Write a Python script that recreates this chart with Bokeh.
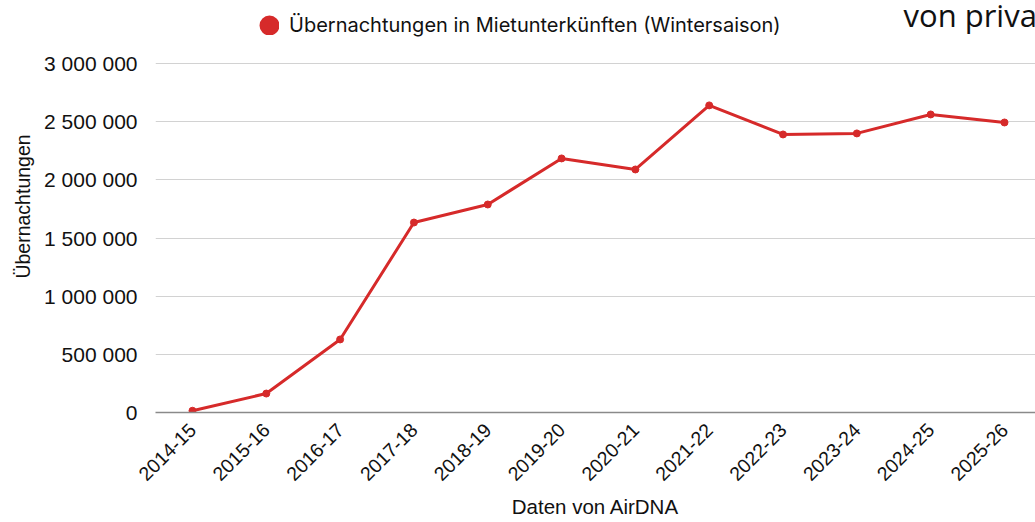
import math
from bokeh.plotting import figure
from bokeh.models import Range1d, FixedTicker, Legend, LegendItem, Label, ColumnDataSource
from bokeh.embed import file_html
from bokeh.resources import INLINE

# ---- data ----
seasons = ["2014-15", "2015-16", "2016-17", "2017-18", "2018-19", "2019-20",
           "2020-21", "2021-22", "2022-23", "2023-24", "2024-25", "2025-26"]
overnights = [15000, 163000, 628000, 1633000, 1788000, 2184000,
              2089000, 2640000, 2390000, 2399000, 2562000, 2493000]
y_ticks = [0, 500000, 1000000, 1500000, 2000000, 2500000, 3000000]
y_tick_labels = ["0", "500 000", "1 000 000", "1 500 000", "2 000 000", "2 500 000", "3 000 000"]
series_name = "Übernachtungen in Mietunterkünften (Wintersaison)"
y_title = "Übernachtungen"
x_title = "Daten von AirDNA"
chart_title = "von privaten Unterkünften"

RED = "#d62a2a"
LEG_FONT = "Inter"
AX_FONT = "Liberation Sans"

# frame spans the full height above the x axis (412 px); top tick sits 349 px above the axis
FRAME_H = 412
TOP_TICK_PX = 349
y_end = y_ticks[-1] * FRAME_H / TOP_TICK_PX

idx = list(range(len(seasons)))
src = ColumnDataSource(dict(x=idx, y=overnights))

p = figure(width=1035, height=522,
           x_range=Range1d(-0.501, 11.42), y_range=Range1d(0, y_end),
           output_backend="svg", toolbar_location=None,
           min_border_left=155, min_border_right=0,
           min_border_top=0, min_border_bottom=110)
p.outline_line_color = None
p.background_fill_color = "white"
p.border_fill_color = "white"

line = p.line("x", "y", source=src, line_color=RED, line_width=3)
pts = p.scatter("x", "y", source=src, size=7, fill_color=RED, line_color=RED)

# x axis
p.xaxis.ticker = FixedTicker(ticks=idx)
p.xaxis.major_label_overrides = {i: s for i, s in zip(idx, seasons)}
p.xaxis.major_label_orientation = math.pi / 4
p.xaxis.major_label_text_font = AX_FONT
p.xaxis.major_label_text_font_size = "19.5px"
p.xaxis.major_label_text_color = "#111111"
p.xaxis.major_label_standoff = 8
p.xaxis.major_tick_line_color = None
p.xaxis.minor_tick_line_color = None
p.xaxis.axis_line_color = "#8a8a8a"
p.xaxis.axis_line_width = 1.5
p.xaxis.axis_label = x_title
p.xaxis.axis_label_text_font = AX_FONT
p.xaxis.axis_label_text_font_size = "20.5px"
p.xaxis.axis_label_text_font_style = "normal"
p.xaxis.axis_label_text_color = "#111111"
p.xaxis.axis_label_standoff = 5

# y axis
p.yaxis.ticker = FixedTicker(ticks=y_ticks)
p.yaxis.major_label_overrides = {t: s for t, s in zip(y_ticks, y_tick_labels)}
p.yaxis.major_label_text_font = AX_FONT
p.yaxis.major_label_text_font_size = "21px"
p.yaxis.major_label_text_color = "#111111"
p.yaxis.major_label_standoff = 12
p.yaxis.major_tick_line_color = None
p.yaxis.minor_tick_line_color = None
p.yaxis.axis_line_color = None
p.yaxis.axis_label = y_title
p.yaxis.axis_label_text_font = AX_FONT
p.yaxis.axis_label_text_font_size = "19.5px"
p.yaxis.axis_label_text_font_style = "normal"
p.yaxis.axis_label_text_color = "#111111"
p.yaxis.axis_label_standoff = 7

p.xgrid.grid_line_color = None
p.ygrid.grid_line_color = "#d2d2d2"
p.ygrid.grid_line_width = 1.2

# legend (big dot): hidden twin of the markers, drawn only in the legend
legend_dot = p.scatter("x", "y", source=src, size=8, fill_color=RED, line_color=RED,
                       line_width=12, visible=False)
legend = Legend(items=[LegendItem(label=series_name, renderers=[legend_dot])],
                location=(104, 375), orientation="horizontal",
                glyph_width=20, glyph_height=20, label_standoff=10,
                padding=0, margin=0, border_line_color=None,
                background_fill_alpha=0,
                label_text_font=LEG_FONT, label_text_font_size="20px",
                label_text_color="#111111")
p.add_layout(legend)

# cut-off title at top right
title = Label(x=748, y=398, x_units="screen", y_units="screen", text=chart_title,
              text_font="Open Sans", text_font_size="31px", text_color="#111111",
              text_baseline="alphabetic")
p.add_layout(title)

open("out.html", "w").write(file_html(p, INLINE))
